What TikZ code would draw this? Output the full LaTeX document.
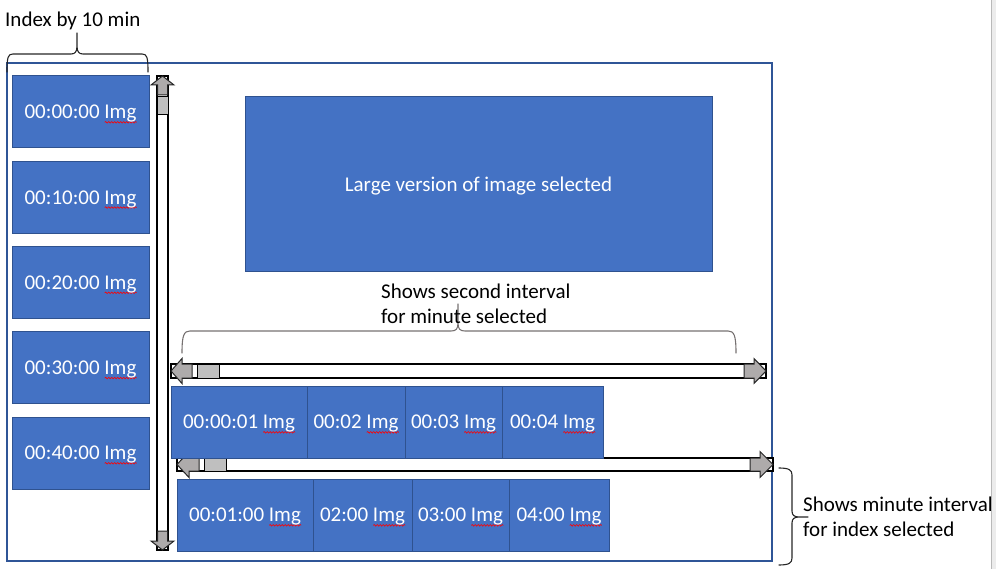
\documentclass[tikz,border=0pt]{standalone}
\usepackage{fontspec}
\setmainfont{Carlito}
\usepackage{xcolor}
\usepackage{tikz}
\usetikzlibrary{positioning,decorations.pathmorphing}
\definecolor{BoxBlue}{HTML}{4472C4}
\definecolor{BoxEdge}{HTML}{2F528F}
\definecolor{FrameBlue}{HTML}{2F5597}
\definecolor{ArrowGray}{HTML}{AEABAB}
\definecolor{ThumbGray}{HTML}{BFBFBF}
\definecolor{BraceGray}{HTML}{767171}
\newsavebox{\TypoBox}
\newcommand{\Typo}[1]{\setbox\TypoBox=\hbox{#1}%
    \rlap{\smash{\tikz[baseline=0pt]\draw[Squiggle] (0pt,-3.5pt) -- (\the\wd\TypoBox,-3.5pt);}}%
    \usebox{\TypoBox}}
\tikzset{
    ImgBox/.style = {draw=BoxEdge,fill=BoxBlue,line width=1pt,text=white,text depth=0pt,
        inner sep=0pt,outer sep=0pt,minimum height=72pt},
    Track/.style = {draw=black,fill=white,line width=1.2pt,inner sep=0pt,outer sep=0pt},
    Thumb/.style = {draw=black,fill=ThumbGray,line width=1pt,inner sep=0pt,outer sep=0pt},
    Brace/.style = {line width=1.1pt,line cap=round},
    Label/.style = {inner sep=0pt,align=left,anchor=north west},
    Squiggle/.style = {draw=red,line width=0.6pt,decorate,
        decoration={snake,amplitude=0.8pt,segment length=3pt}},
    pics/ScrollArrow/.style n args = {3}{code={
        \draw[draw=black!85,fill=ArrowGray,line width=1pt]
            (0,0) -- (-#3,#1) -- (-#3,#2) -- (-#3-10,#2) -- (-#3-10,-#2)
            -- (-#3,-#2) -- (-#3,-#1) -- cycle;
    }}
}
\begin{document}
\begin{tikzpicture}[x=1pt,y=-1pt,font=\fontsize{21}{25}\selectfont]
    \useasboundingbox (0,0) rectangle (996,569);
    \fill[gray!15] (991,0) rectangle (996,569);
    \draw[gray!55,line width=1.2pt] (991.5,0) -- (991.5,569);
    \draw[FrameBlue,line width=1.2pt] (7,63) rectangle (772,561);
    % scroll bars
    \node[Track,minimum width=11pt,minimum height=474pt] (vbar) at (162.5,313) {};
    \node[Thumb,minimum width=11pt,minimum height=18pt,below=21pt of vbar.north] (vthumb) {};
    \pic[rotate=90] at (vbar.north) {ScrollArrow={11.5}{5}{9}};
    \pic[rotate=-90] at (vbar.south) {ScrollArrow={11.5}{5}{9}};
    \node[Track,minimum width=595pt,minimum height=14pt] (hbar1) at (468.5,371) {};
    \node[Thumb,minimum width=22pt,minimum height=14pt,right=26pt of hbar1.west] (hthumb1) {};
    \pic[rotate=180] at (hbar1.west) {ScrollArrow={12.5}{7}{11}};
    \pic at (hbar1.east) {ScrollArrow={12.5}{7}{12}};
    \node[Track,minimum width=596pt,minimum height=13pt] (hbar2) at (475,464.5) {};
    \node[Thumb,minimum width=22pt,minimum height=13pt,right=27pt of hbar2.west] (hthumb2) {};
    \pic[rotate=180] at (hbar2.west) {ScrollArrow={13}{6.5}{12}};
    \pic at (hbar2.east) {ScrollArrow={13}{6.5}{13}};
    % images
    \foreach \X/\T in {0/00:00:00,1/00:10:00,2/00:20:00,3/00:30:00,4/00:40:00}
        {\node[ImgBox,minimum width=137pt,anchor=north west] (idx\X) at (12,76+85.25*\X) {\T\ \Typo{Img}};}
    \node[ImgBox,minimum width=467pt,minimum height=175pt,anchor=north west] (large) at (245,97)
        {Large version of image selected};
    \node[ImgBox,minimum width=136pt,anchor=north west] (sec1) at (171,386) {00:00:01 \Typo{Img}};
    \node[ImgBox,minimum width=98pt,right=0pt of sec1] (sec2) {00:02 \Typo{Img}};
    \node[ImgBox,minimum width=97pt,right=0pt of sec2] (sec3) {00:03 \Typo{Img}};
    \node[ImgBox,minimum width=101pt,right=0pt of sec3] (sec4) {00:04 \Typo{Img}};
    \node[ImgBox,minimum width=136pt,anchor=north west] (min1) at (177,479) {00:01:00 \Typo{Img}};
    \node[ImgBox,minimum width=99pt,right=0pt of min1] (min2) {02:00 \Typo{Img}};
    \node[ImgBox,minimum width=97pt,right=0pt of min2] (min3) {03:00 \Typo{Img}};
    \node[ImgBox,minimum width=100pt,right=0pt of min3] (min4) {04:00 \Typo{Img}};
    % braces and labels
    \draw[Brace,draw=black!85] (7,72) .. controls (7,57) and (8,54) .. (13,54) -- (71,54)
        .. controls (75,54) and (77,52) .. (77,46) -- (77,33)
        (77,46) .. controls (77,52) and (79,54) .. (83,54) -- (142,54)
        .. controls (147,54) and (148,57) .. (148,72);
    \node[inner sep=0pt,anchor=base west] (idxlabel) at (5,27) {Index by 10 min};
    \draw[Brace,draw=BraceGray] (182,353) .. controls (182,335) and (184,331) .. (190,331) -- (451,331)
        .. controls (456,331) and (458,329) .. (458,323) -- (458,304)
        (458,323) .. controls (458,329) and (460,331) .. (465,331) -- (728,331)
        .. controls (734,331) and (736,335) .. (736,353);
    \node[Label] (seclabel) at (381,283.5) {Shows second interval\\for minute selected};
    \draw[Brace,draw=black!85] (779,468) .. controls (789,468) and (792,470) .. (792,475) -- (792,511)
        .. controls (792,515) and (794,517) .. (799,517) -- (808,517)
        (799,517) .. controls (794,517) and (792,519) .. (792,523) -- (792,558)
        .. controls (792,563) and (789,565) .. (779,565);
    \node[Label] (minlabel) at (803,496.5) {Shows minute interval\\for index selected};
\end{tikzpicture}
\end{document}
